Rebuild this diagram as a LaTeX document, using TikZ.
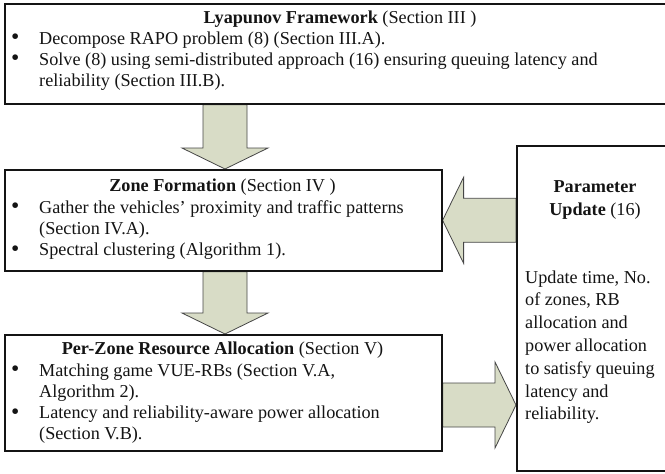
\documentclass[tikz,border=0pt]{standalone}
\usepackage{fontspec}
\setmainfont{Liberation Serif}
\usetikzlibrary{calc,backgrounds}
\definecolor{arrowfill}{RGB}{216,220,198}
\definecolor{arrowline}{RGB}{70,70,70}
\definecolor{ink}{RGB}{20,20,20}
\tikzset{
  box/.style={draw=ink, line width=1.6pt, fill=white, inner sep=0pt, anchor=north west},
  blockarrow/.style={draw=arrowline, line width=0.8pt, fill=arrowfill, line join=miter},
  txt/.style={inner sep=0pt, text=ink, font=\fontsize{18.2}{21.3}\selectfont},
  ptxt/.style={inner sep=0pt, text=ink, font=\fontsize{18.2}{22.8}\selectfont},
}
\newcommand\bul{\hspace*{1pt}\raisebox{-0.5pt}{\scalebox{1.3}{\textbullet}}}
\newcommand\arrowdown[2]{%
  \path[blockarrow] let \p1=(#1), \p2=(#2) in
    (\x1-22pt,\y1) -- (\x1-22pt,\y2+21pt) -- (\x1-43pt,\y2+21pt) -- (\x2,\y2)
    -- (\x1+43pt,\y2+21pt) -- (\x1+22pt,\y2+21pt) -- (\x1+22pt,\y1) -- cycle;}
\newcommand\arrowleft[2]{%
  \path[blockarrow] let \p1=(#1), \p2=(#2) in
    (\x1,\y1+22pt) -- (\x2+21pt,\y1+22pt) -- (\x2+21pt,\y1+43pt) -- (\x2,\y2)
    -- (\x2+21pt,\y1-43pt) -- (\x2+21pt,\y1-22pt) -- (\x1,\y1-22pt) -- cycle;}
\newcommand\arrowright[2]{%
  \path[blockarrow] let \p1=(#1), \p2=(#2) in
    (\x1,\y1+22pt) -- (\x2-21pt,\y1+22pt) -- (\x2-21pt,\y1+43pt) -- (\x2,\y2)
    -- (\x2-21pt,\y1-43pt) -- (\x2-21pt,\y1-22pt) -- (\x1,\y1-22pt) -- cycle;}
\begin{document}
\begin{tikzpicture}[x=1pt,y=-1pt]
\useasboundingbox (0,0) rectangle (665,474);
\clip (0,0) rectangle (665,474);

% boxes
\node[box, minimum width=672pt, minimum height=100pt] (b1) at (4,3) {};
\node[box, minimum width=437pt, minimum height=101pt] (b2) at (4,169) {};
\node[box, minimum width=437pt, minimum height=116pt] (b3) at (4,334) {};
\node[box, minimum width=160pt, minimum height=325pt] (p) at (516,145) {};

% helper coordinates
\coordinate (ax) at (225,0);
\coordinate (ay) at (0,405);

% block arrows
\begin{pgfonlayer}{background}
\arrowdown{ax |- b1.south}{ax |- b2.north}
\arrowleft{p.west |- b2.east}{b2.east}
\arrowdown{ax |- b2.south}{ax |- b3.north}
\arrowright{b3.east |- ay}{p.west |- ay}
\end{pgfonlayer}

% box 1 text
\node[txt, anchor=base] (t1) at (340,23) {\textbf{Lyapunov Framework} (Section III )};
\node[txt, anchor=base west] (l1) at (10,44) {%
\begin{tabular}[t]{@{}p{29pt}@{}l@{}}
\bul & Decompose RAPO problem (8) (Section III.A).\\
\bul & Solve (8) using semi-distributed approach (16) ensuring queuing latency and\\
 & reliability (Section III.B).
\end{tabular}};

% box 2 text
\node[txt, anchor=base] (t2) at (222.5,191) {\textbf{Zone Formation} (Section IV )};
\node[txt, anchor=base west] (l2) at (10,213) {%
\begin{tabular}[t]{@{}p{29pt}@{}l@{}}
\bul & Gather the vehicles’ proximity and traffic patterns\\
 & (Section IV.A).\\
\bul & Spectral clustering (Algorithm 1).
\end{tabular}};

% box 3 text
\node[txt, anchor=base] (t3) at (222.5,354) {\textbf{Per-Zone Resource Allocation} (Section V)};
\node[txt, anchor=base west] (l3) at (10,376) {%
\begin{tabular}[t]{@{}p{29pt}@{}l@{}}
\bul & Matching game VUE-RBs (Section V.A,\\
 & Algorithm 2).\\
\bul & Latency and reliability-aware power allocation\\
 & (Section V.B).
\end{tabular}};

% parameter box text
\node[ptxt, anchor=base, align=center] (pt) at (595,215) {\textbf{Parameter}\\\textbf{Update} (16)};
\node[ptxt, anchor=base west] (pb) at (525,283) {%
\begin{tabular}[t]{@{}l@{}}
Update time, No.\\
of zones, RB\\
allocation and\\
power allocation\\
to satisfy queuing\\
latency and\\
reliability.
\end{tabular}};
\end{tikzpicture}
\end{document}
